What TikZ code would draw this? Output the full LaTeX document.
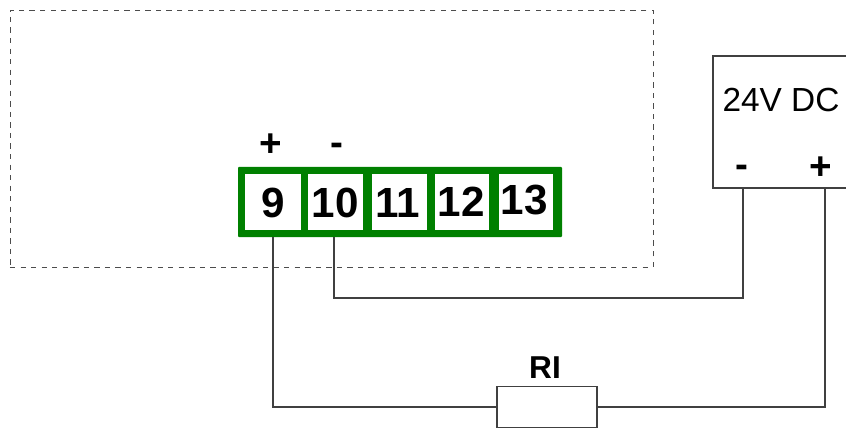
\documentclass[tikz,border=0pt]{standalone}
\usepackage{fontspec}
\setmainfont{Liberation Sans}
\begin{document}
\begin{tikzpicture}[x=0.2mm, y=-0.2mm,
    wire/.style={
        draw=black!75,
        line width=0.6pt
    },
    strip/.style={
        fill={rgb,255:red,0;green,128;blue,0},
        minimum width=6.48cm,
        minimum height=1.4cm,
        inner sep=0pt,
        rounded corners=0.5pt
    },
    terminal/.style={
        fill=white,
        minimum height=1.12cm,
        inner sep=0pt
    },
    number/.style={
        inner sep=0pt,
        font=\fontsize{24}{24}\selectfont\bfseries
    },
    box/.style={
        draw=black!75,
        fill=white,
        line width=0.6pt,
        inner sep=0pt
    },
    sign/.style={
        inner sep=0pt,
        font=\fontsize{22}{22}\selectfont\bfseries
    }
]

\useasboundingbox (0,0) rectangle (846,428);

%%%%%%%%%%%%%%%%%%%%%%%%
% Device outline
%%%%%%%%%%%%%%%%%%%%%%%%

\node[draw=black!70, dashed, line width=0.5pt, minimum width=12.86cm, minimum height=5.14cm, inner sep=0pt] (device) at (331.5,138.5) {};

%%%%%%%%%%%%%%%%%%%%%%%%
% Terminal strip
%%%%%%%%%%%%%%%%%%%%%%%%

\node[strip] (stripbase) at (400,202) {};

% --- Terminals ---
\node[terminal, minimum width=1.12cm] (t9) at (273,202) {};
\node[terminal, minimum width=1.10cm] (t10) at (335.5,202) {};
\node[terminal, minimum width=1.10cm] (t11) at (399.5,202) {};
\node[terminal, minimum width=1.08cm] (t12) at (462,202) {};
\node[terminal, minimum width=1.08cm] (t13) at (526,202) {};

% --- Numbers ---
\node[number] (n9) at (273,203) {9};
\node[number] (n10) at (335,203) {10};
\node[number] (n11) at (398,203) {11};
\node[number] (n12) at (461,202) {12};
\node[number] (n13) at (524,200) {13};

% --- Polarity ---
\node[sign] (plusin) at (271,145) {+};
\node[sign] (minusin) at (337,149) {-};

%%%%%%%%%%%%%%%%%%%%%%%%
% Supply
%%%%%%%%%%%%%%%%%%%%%%%%

\node[box, minimum width=2.9cm, minimum height=2.64cm] (supply) at (785.5,122) {};
\node[inner sep=0pt, font=\fontsize{19}{19}\selectfont] (supplytext) at (781,100) {24V DC};
\node[sign] (minusout) at (742,171) {-};
\node[sign] (plusout) at (821,168) {+};

%%%%%%%%%%%%%%%%%%%%%%%%
% Resistor
%%%%%%%%%%%%%%%%%%%%%%%%

\node[box, minimum width=2cm, minimum height=0.82cm] (resistor) at (547,407) {};
\node[inner sep=0pt, font=\fontsize{18}{18}\selectfont\bfseries] (resistortext) at (545,368) {RI};

%%%%%%%%%%%%%%%%%%%%%%%%
% Wires
%%%%%%%%%%%%%%%%%%%%%%%%

\coordinate (supplyminus) at (743,188);
\coordinate (supplyplus) at (825,188);
\coordinate (wirenine) at (273,237);
\coordinate (wireten) at (334,237);

\draw[wire] (wireten) |- (supplyminus |- 0,298) -- (supplyminus);
\draw[wire] (wirenine) |- (resistor.west);
\draw[wire] (resistor.east) -| (supplyplus);

\end{tikzpicture}
\end{document}
